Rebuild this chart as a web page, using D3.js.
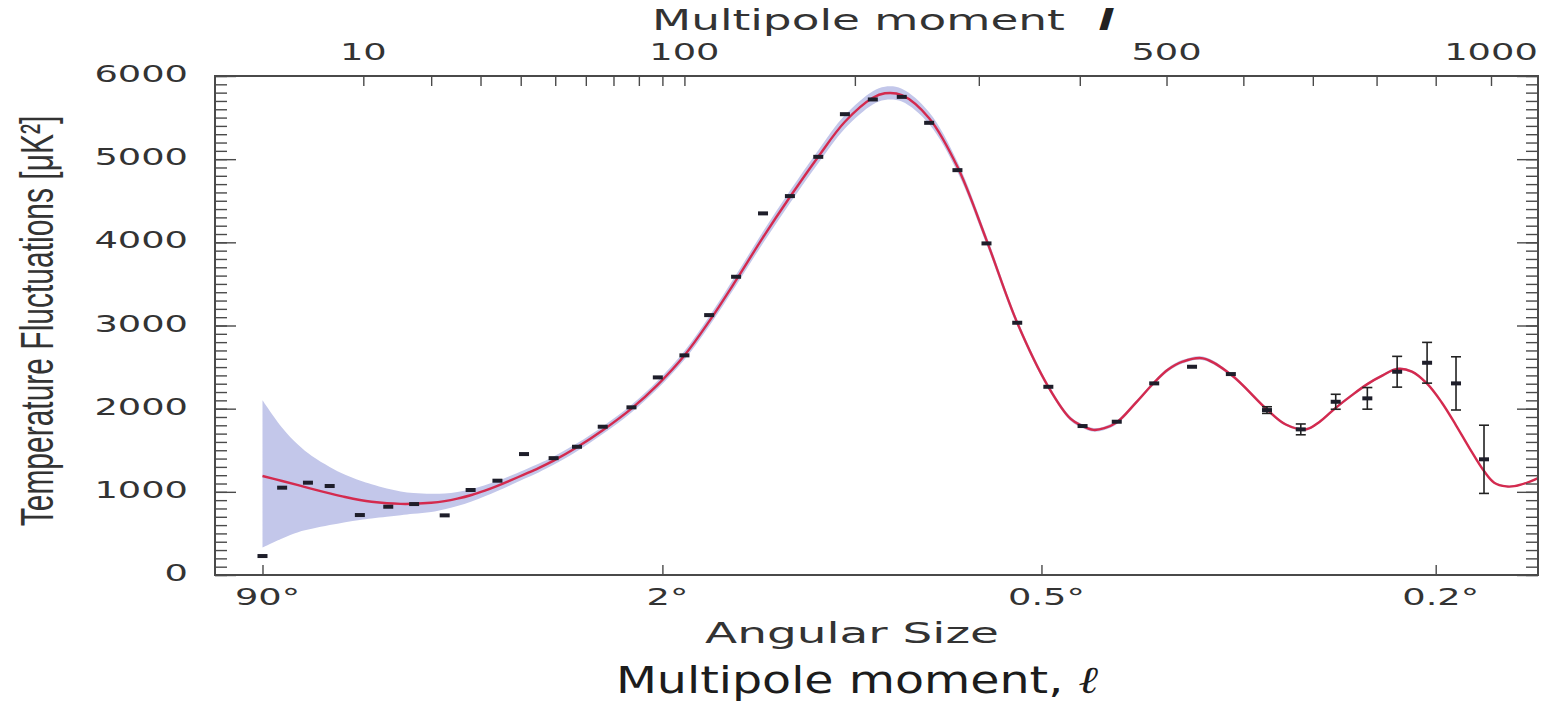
<!DOCTYPE html>
<html>
<head>
<meta charset="utf-8">
<script src="https://cdn.jsdelivr.net/npm/d3@7"></script>
<style>
  html, body { margin: 0; padding: 0; background: #fff; }
  svg { display: block; }
</style>
</head>
<body>
<svg id="chart" width="1546" height="702"></svg>
<script>
// ---------------- data ----------------
// binned measurements: multipole, D_l [uK^2], 1-sigma error
const dataL = [2, 3, 4.7, 6.5, 9.6, 13.2, 17.1, 22.5, 27.8, 34, 40.9, 49.5, 57, 66, 77, 88, 100, 112, 126, 141, 157, 175, 193, 213, 235, 257, 281, 307, 336, 367, 403, 441, 485, 532, 583, 633, 682, 735, 785, 834, 885, 936, 987];
const dataV = [228, 1050, 1110, 1070, 721, 821, 853, 717, 1022, 1134, 1454, 1405, 1542, 1783, 2016, 2376, 2641, 3125, 3586, 4348, 4556, 5028, 5541, 5718, 5749, 5437, 4868, 3987, 3033, 2263, 1791, 1843, 2304, 2504, 2416, 1983, 1751, 2083, 2124, 2444, 2552, 2304, 1391];
const dataErr = [0, 0, 0, 0, 0, 0, 0, 0, 0, 0, 0, 0, 15, 15, 15, 15, 15, 15, 15, 15, 15, 15, 15, 15, 15, 15, 15, 15, 15, 15, 20, 20, 25, 30, 30, 40, 65, 90, 130, 185, 245, 320, 410];

// best-fit model curve with its band (distance above / below the curve)
const curveL = [2, 3, 4, 5, 6.5, 8, 9.6, 11, 13, 15, 17, 20, 22.5, 25, 28, 31, 34, 37, 41, 45, 49.5,
  57, 66, 77, 88, 100, 112, 126, 141, 157, 175, 193, 213, 222, 235, 257, 281, 307, 336, 367,
  390, 403, 415, 427, 441, 463, 485, 502, 520, 546, 583, 633, 660, 690, 710, 735, 760, 785, 810, 834,
  859, 885, 910, 936, 960, 987, 1006, 1029, 1044, 1073, 1090];
const curveV = [1190, 1130, 1080, 1036, 982, 938, 902, 880, 862, 855, 856, 868, 888, 918, 962, 1015, 1072, 1132, 1210, 1285, 1375,
  1535, 1740, 2000, 2290, 2640, 3050, 3545, 4060, 4545, 5030, 5450, 5738, 5792, 5770, 5493, 4908, 4027, 3033, 2263,
  1880, 1790, 1745, 1765, 1835, 2070, 2315, 2470, 2565, 2605, 2410, 1990, 1810, 1752, 1840, 2010, 2160, 2295, 2400, 2478,
  2445, 2300, 2080, 1800, 1530, 1250, 1110, 1065, 1068, 1120, 1165];
const bandUp = [910, 640, 485, 394, 318, 267, 233, 210, 178, 150, 129, 108, 92, 80, 70, 64, 60, 56, 54, 52, 50,
  48, 46, 46, 48, 52, 58, 64, 70, 74, 78, 80, 80, 80, 78, 72, 62, 52, 40, 30,
  25, 22, 22, 22, 22, 22, 22, 22, 22, 22, 20, 18, 16, 16, 16, 16, 16, 16, 16, 16,
  15, 14, 13, 12, 11, 10, 10, 10, 10, 10, 10];
const bandDn = [860, 690, 565, 481, 382, 303, 240, 200, 162, 137, 121, 111, 98, 88, 77, 68, 62, 58, 54, 52, 50,
  48, 46, 46, 48, 52, 58, 64, 70, 74, 78, 80, 80, 80, 78, 72, 62, 52, 40, 30,
  25, 22, 22, 22, 22, 22, 22, 22, 22, 22, 20, 18, 16, 16, 16, 16, 16, 16, 16, 16,
  15, 14, 13, 12, 11, 10, 10, 10, 10, 10, 10];

// axis ticks and labels
const yMajor = [0, 1000, 2000, 3000, 4000, 5000, 6000];
const topTicks = [10, 20, 30, 40, 50, 60, 70, 80, 90, 100, 200, 300, 400, 500, 600, 700, 800, 900, 1000];
const topLabeled = [10, 100, 500, 1000];
const angleL = [2, 90, 360, 900];
const angleLabels = ["90°", "2°", "0.5°", "0.2°"];

// ---------------- drawing ----------------
const svg = d3.select("#chart");
svg.append("rect").attr("width", 1546).attr("height", 702).attr("fill", "#fff");

const L = 215, R = 1538, T = 76, B = 575;
const x = d3.scalePow().exponent(0.4).domain([0.5, 1090]).range([L, R]);
const y = d3.scaleLinear().domain([0, 6000]).range([B, T]);

const AX = "#4a4a4a", TXT = "#333";

function label(parent, px, py, str, o) {
  return parent.append("text")
    .attr("transform", `translate(${px},${py}) scale(${o.sx || 1},1)` + (o.rot ? ` rotate(${o.rot})` : ""))
    .attr("text-anchor", o.anchor || "middle")
    .attr("font-family", o.family || "'DejaVu Sans', sans-serif")
    .attr("font-size", o.size)
    .attr("font-weight", o.weight || "normal")
    .attr("font-style", o.style || "normal")
    .attr("fill", o.fill || TXT)
    .text(str);
}

const curve = curveL.map((l, i) => ({ l, v: curveV[i], up: bandUp[i], dn: bandDn[i] }));
const smooth = d3.curveCatmullRom.alpha(0.5);

// band
const band = d3.area()
  .x(d => x(d.l))
  .y0(d => y(d.v - d.dn))
  .y1(d => y(d.v + d.up))
  .curve(smooth);
svg.append("path").datum(curve).attr("d", band)
  .attr("fill", "#c3c7ea").attr("stroke", "none");

// model curve
const line = d3.line().x(d => x(d.l)).y(d => y(d.v)).curve(smooth);
svg.append("path").datum(curve).attr("d", line)
  .attr("fill", "none").attr("stroke", "#d42a4e").attr("stroke-width", 2.4);

// data points
const pts = dataL.map((l, i) => ({ l, v: dataV[i], e: dataErr[i] }));
const gp = svg.append("g");
pts.forEach(p => {
  const cx = x(p.l), cy = y(p.v);
  if (p.e >= 35) {
    const y1 = y(p.v + p.e), y2 = y(p.v - p.e);
    gp.append("line").attr("x1", cx).attr("x2", cx).attr("y1", y1).attr("y2", y2)
      .attr("stroke", "#222").attr("stroke-width", 1.6);
    [y1, y2].forEach(yy => gp.append("line").attr("x1", cx - 5).attr("x2", cx + 5)
      .attr("y1", yy).attr("y2", yy).attr("stroke", "#222").attr("stroke-width", 1.6));
  }
  gp.append("rect").attr("x", cx - 5).attr("y", cy - 2).attr("width", 10).attr("height", 4)
    .attr("fill", "#1e1e2a");
});

// frame
svg.append("rect").attr("x", L).attr("y", T).attr("width", R - L).attr("height", B - T)
  .attr("fill", "none").attr("stroke", AX).attr("stroke-width", 2);

// y ticks: left and right, minor every 100, major every 1000
const yMinor = d3.range(0, 6001, 100);
function styleAxis(g) {
  g.select(".domain").remove();
  g.selectAll(".tick line").attr("stroke", AX).attr("stroke-width", 1.4);
  g.selectAll(".tick text").remove();
}
svg.append("g").attr("transform", `translate(${L},0)`)
  .call(d3.axisLeft(y).tickValues(yMinor).tickSize(-12)).call(styleAxis);
svg.append("g").attr("transform", `translate(${L},0)`)
  .call(d3.axisLeft(y).tickValues(yMajor).tickSize(-21)).call(styleAxis);
svg.append("g").attr("transform", `translate(${R},0)`)
  .call(d3.axisRight(y).tickValues(yMinor).tickSize(-12)).call(styleAxis);
svg.append("g").attr("transform", `translate(${R},0)`)
  .call(d3.axisRight(y).tickValues(yMajor).tickSize(-21)).call(styleAxis);

yMajor.forEach(v => label(svg, 188, y(v) + 6, String(v), { size: 23, sx: 1.6, anchor: "end" }));

// top axis (multipole)
svg.append("g").attr("transform", `translate(0,${T})`)
  .call(d3.axisTop(x).tickValues(topTicks).tickSize(-10)).call(styleAxis);
topLabeled.forEach(v => label(svg, x(v), 60, String(v), { size: 23, sx: 1.6 }));

// bottom axis (angular size)
svg.append("g").attr("transform", `translate(0,${B})`)
  .call(d3.axisBottom(x).tickValues(angleL).tickSize(-10)).call(styleAxis);
angleL.forEach((v, i) => label(svg, x(v) + 5, 605, angleLabels[i], { size: 23, sx: 1.6 }));

// titles
label(svg, 652, 30, "Multipole moment", { size: 28, sx: 1.62, anchor: "start" });
label(svg, 1098, 30, "l", { size: 28, sx: 1.6, anchor: "start", weight: "bold", style: "italic", fill: "#222" });
label(svg, 852, 643, "Angular Size", { size: 29, sx: 1.62 });

const bt = label(svg, 857, 693, "", { size: 38, sx: 1.25, fill: "#1c1c1c" });
bt.append("tspan").text("Multipole moment, ");
bt.append("tspan").attr("font-family", "'DejaVu Serif', serif").attr("font-style", "italic").text("ℓ");

label(svg, 53, 321, "Temperature Fluctuations [μK²]", {
  size: 30, sx: 1.55, rot: -90, family: "'Liberation Sans', Arial, sans-serif"
});
</script>
</body>
</html>
